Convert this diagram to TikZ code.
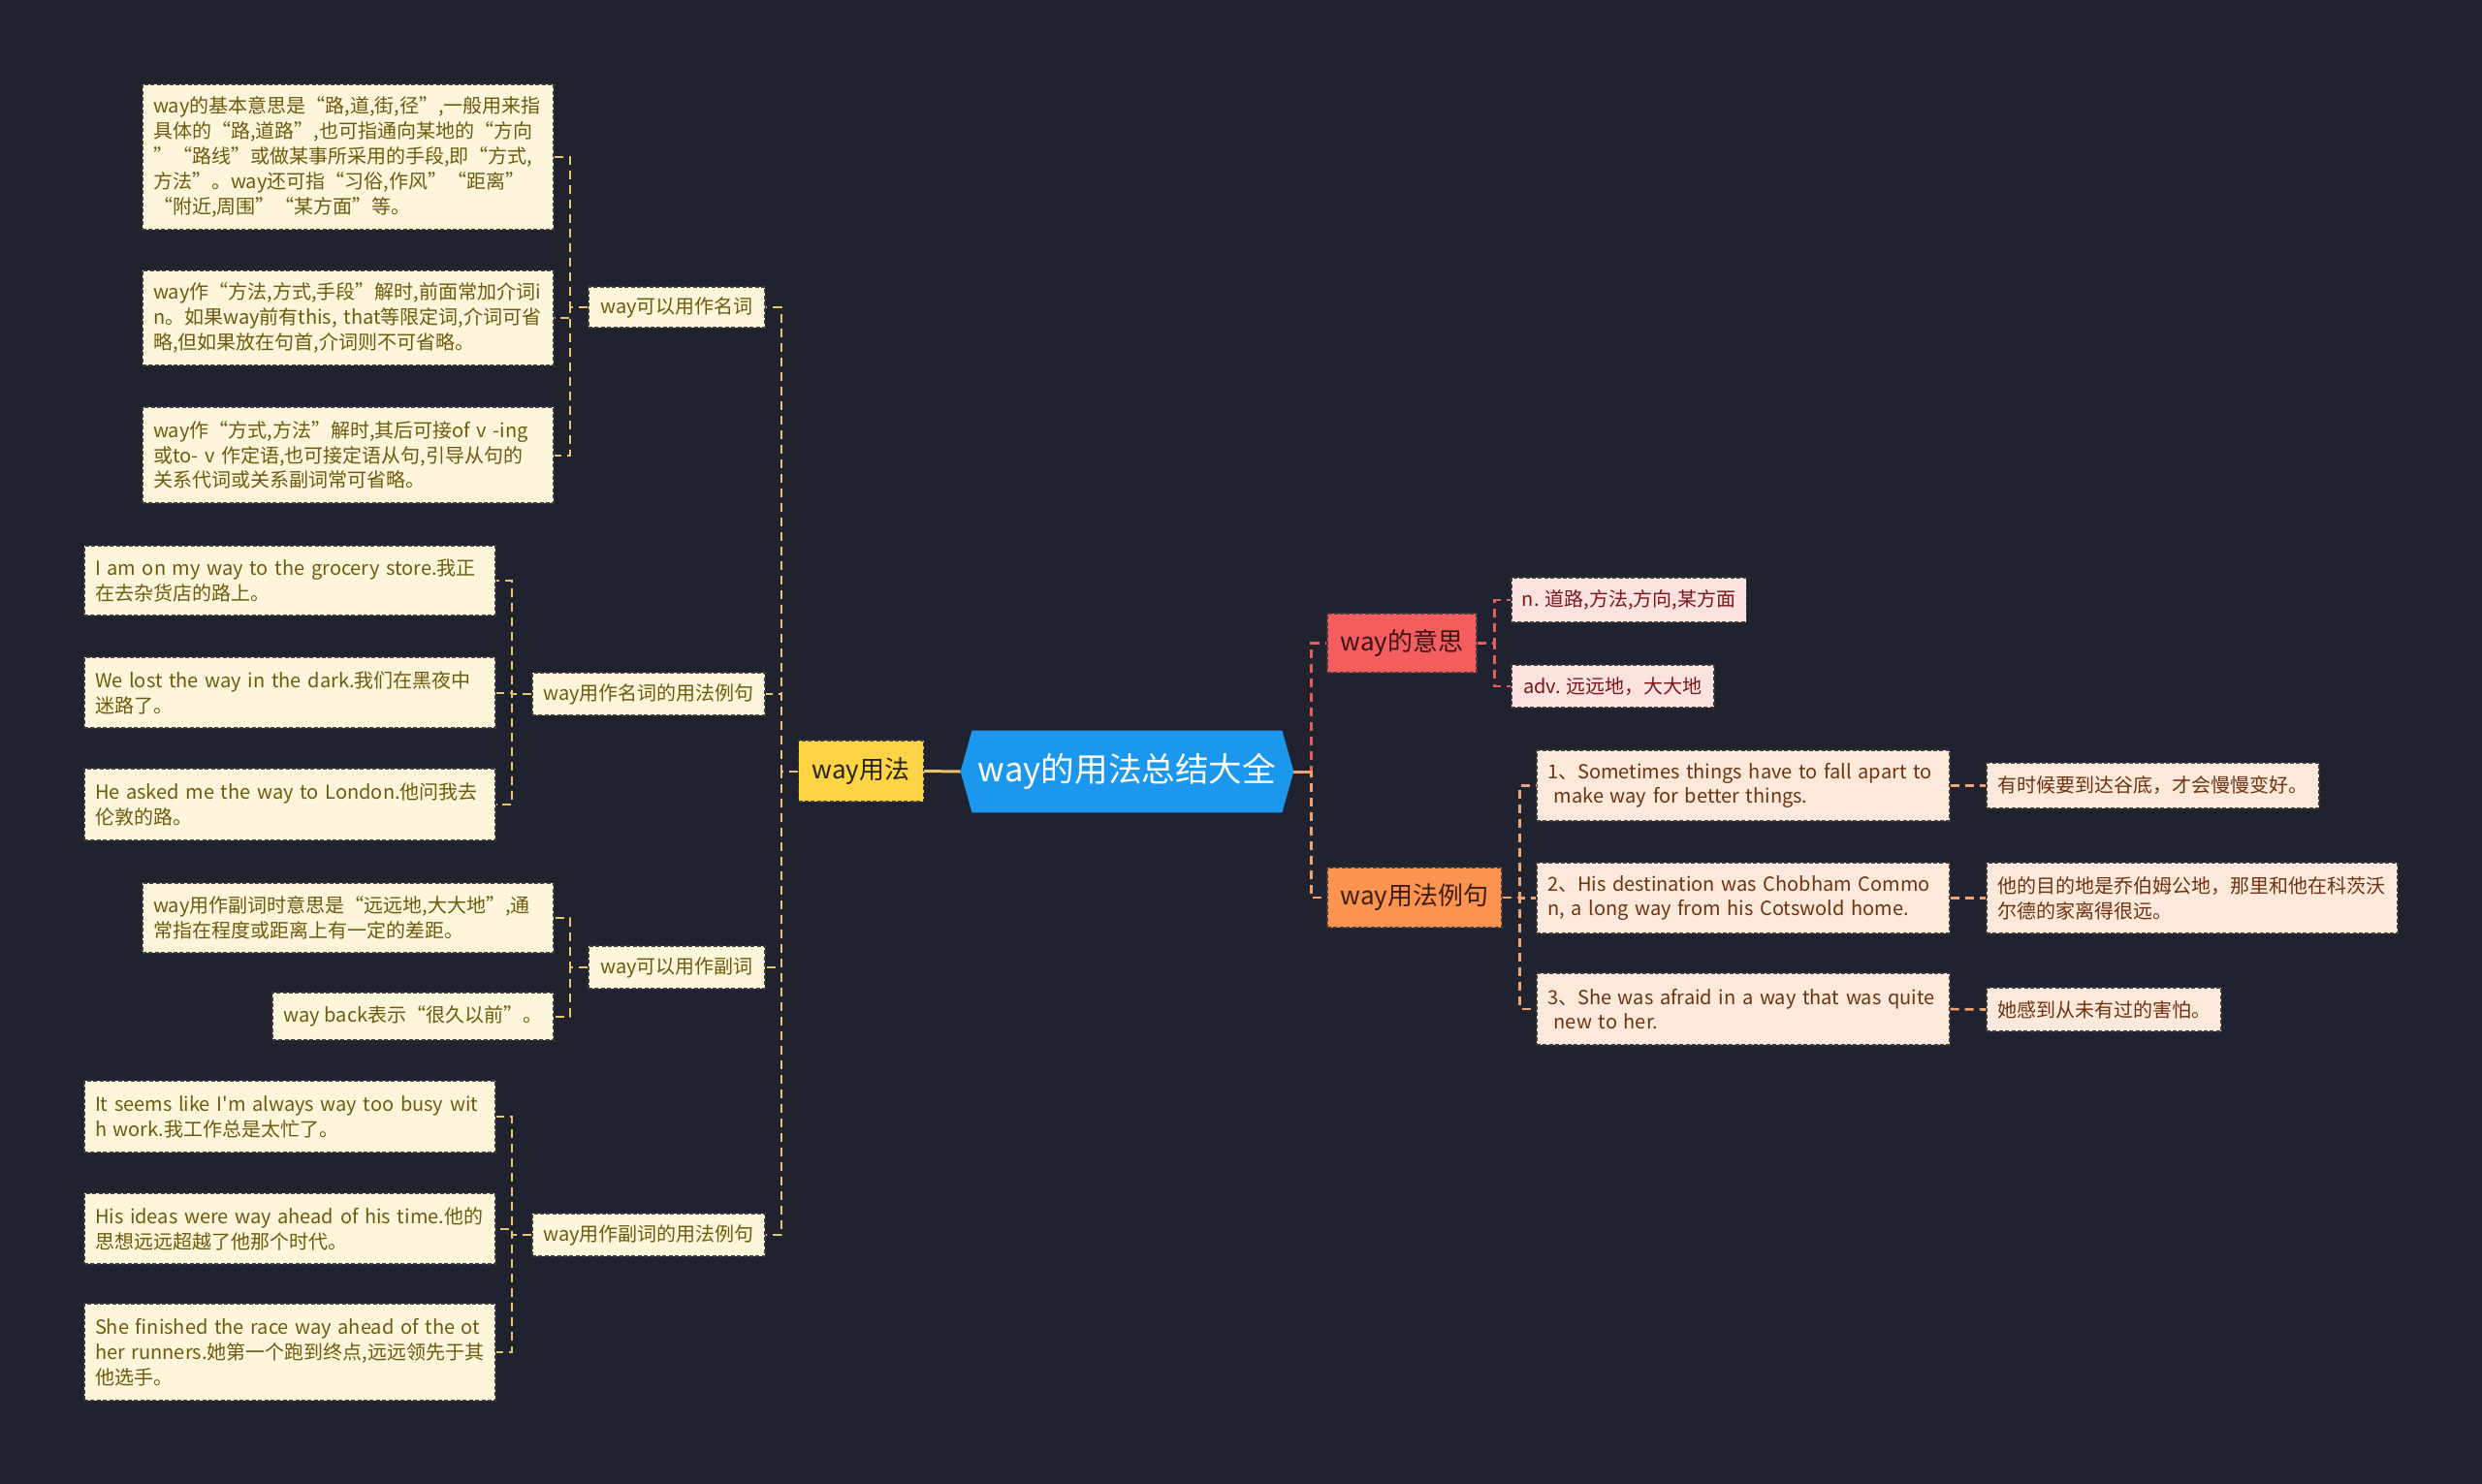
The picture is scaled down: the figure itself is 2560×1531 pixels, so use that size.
\documentclass[tikz,border=0pt]{standalone}
\usepackage{fontspec}
\setmainfont{Noto Sans CJK SC}[Ligatures=TeXOff]
\usetikzlibrary{backgrounds}
\definecolor{bg}{HTML}{20232F}
\definecolor{hexblue}{HTML}{1B98EE}
\definecolor{yel}{HTML}{FDD443}
\definecolor{cream}{HTML}{FDF6DA}
\definecolor{olive}{HTML}{6E5A0E}
\definecolor{redbox}{HTML}{F45E5E}
\definecolor{pinkbox}{HTML}{FDE3E0}
\definecolor{darkred}{HTML}{7A1616}
\definecolor{orangebox}{HTML}{FD9350}
\definecolor{peach}{HTML}{FDE9DC}
\definecolor{brownt}{HTML}{6E3210}
\definecolor{lineyel}{HTML}{E8C56A}
\definecolor{linered}{HTML}{E45E5E}
\definecolor{lineor}{HTML}{F2A46E}
\definecolor{bord}{HTML}{3C3C3C}
\newcommand\Lx[1]{\mbox{#1}}
\tikzset{
  base/.style={inner xsep=5.5pt, inner ysep=0pt, draw=bord, line width=0.7pt, dash pattern=on 2pt off 1.2pt},
  small/.style={font=\fontsize{10pt}{12.9pt}\selectfont},
  creamL/.style={base, small, fill=cream, text=olive},
  pinkL/.style={base, small, fill=pinkbox, text=darkred},
  peachL/.style={base, small, fill=peach, text=brownt},
  multi/.style={align=left, text width=#1},
  lvlone/.style={base, font=\fontsize{13pt}{15pt}\selectfont},
  connY/.style={draw=lineyel, line width=1pt, dash pattern=on 4.5pt off 3pt},
  connR/.style={draw=linered, line width=1.3pt, dash pattern=on 4.5pt off 3pt},
  connO/.style={draw=lineor, line width=1.3pt, dash pattern=on 4.5pt off 3pt},
}
\begin{document}
\begin{tikzpicture}[x=0.5pt, y=-0.5pt]
\useasboundingbox (0,0) rectangle (2560,1531);

% root
\node[text=white, font=\fontsize{17.3pt}{20pt}\selectfont, minimum width=171.5pt, minimum height=42pt, inner sep=0pt] (root) at (1162.5,796) {way的用法总结大全};

% level 1
\node[lvlone, fill=yel, text={rgb,255:red,40;green,36;blue,20}, minimum width=64.5pt, minimum height=31.5pt] (Y) at (888,795.5) {way用法};
\node[lvlone, fill=redbox, text={rgb,255:red,60;green,20;blue,20}, minimum width=77pt, minimum height=30.5pt] (M1) at (1446,663.5) {way的意思};
\node[lvlone, fill=orangebox, text={rgb,255:red,60;green,30;blue,12}, minimum width=90pt, minimum height=31pt] (M2) at (1459,926) {way用法例句};

% left level 2
\node[creamL, minimum width=91pt, minimum height=21pt] (N1) at (698,317) {way可以用作名词};
\node[creamL, minimum width=120pt, minimum height=22pt] (N2) at (669,716) {way用作名词的用法例句};
\node[creamL, minimum width=91pt, minimum height=22pt] (N3) at (698,998) {way可以用作副词};
\node[creamL, minimum width=120pt, minimum height=22pt] (N4) at (669,1274) {way用作副词的用法例句};

% left leaves
\node[creamL, multi=201pt, minimum height=75pt] (L1) at (359,162) {\Lx{way的基本意思是“路,道,街,径”,一般用来指}\\\Lx{具体的“路,道路”,也可指通向某地的“方向}\\\Lx{”“路线”或做某事所采用的手段,即“方式,}\\\Lx{方法”。way还可指“习俗,作风”“距离”}\\\Lx{“附近,周围”“某方面”等。}};
\node[creamL, multi=201pt, minimum height=49pt] (L2) at (359,328) {\Lx{way作“方法,方式,手段”解时,前面常加介词i}\\\Lx{n。如果way前有this, that等限定词,介词可省}\\\Lx{略,但如果放在句首,介词则不可省略。}};
\node[creamL, multi=201pt, minimum height=49.5pt] (L3) at (359,469.5) {\Lx{way作“方式,方法”解时,其后可接of v -ing}\\\Lx{或to- v 作定语,也可接定语从句,引导从句的}\\\Lx{关系代词或关系副词常可省略。}};

\node[creamL, multi=201pt, minimum height=36pt] (E1) at (299,599) {\Lx{I am on my way to the grocery store.我正}\\\Lx{在去杂货店的路上。}};
\node[creamL, multi=201pt, minimum height=36.5pt] (E2) at (299,714.5) {\Lx{We lost the way in the dark.我们在黑夜中}\\\Lx{迷路了。}};
\node[creamL, multi=201pt, minimum height=37pt] (E3) at (299,830) {\Lx{He asked me the way to London.他问我去}\\\Lx{伦敦的路。}};

\node[creamL, multi=201pt, minimum height=36pt] (A1) at (359,947) {\Lx{way用作副词时意思是“远远地,大大地”,通}\\\Lx{常指在程度或距离上有一定的差距。}};
\node[creamL, minimum width=145pt, minimum height=24.5pt] (A2) at (426,1048.5) {way back表示“很久以前”。};

\node[creamL, multi=201pt, minimum height=37pt] (X1) at (299,1152) {\Lx{It seems like I'm always way too busy wit}\\\Lx{h work.我工作总是太忙了。}};
\node[creamL, multi=201pt, minimum height=36.5pt] (X2) at (299,1267.5) {\Lx{His ideas were way ahead of his time.他的}\\\Lx{思想远远超越了他那个时代。}};
\node[creamL, multi=201pt, minimum height=50pt] (X3) at (299,1395) {\Lx{She finished the race way ahead of the ot}\\\Lx{her runners.她第一个跑到终点,远远领先于其}\\\Lx{他选手。}};

% right leaves
\node[pinkL, minimum width=121pt, minimum height=23pt] (P1) at (1680,619) {n. 道路,方法,方向,某方面};
\node[pinkL, minimum width=104.5pt, minimum height=22pt] (P2) at (1663.5,708) {adv. 远远地，大大地};

\node[peachL, multi=202pt, minimum height=36.5pt] (R1) at (1798,810.5) {\Lx{1、Sometimes things have to fall apart to}\\\Lx{ make way for better things.}};
\node[peachL, multi=202pt, minimum height=36.5pt] (R2) at (1798,926.5) {\Lx{2、His destination was Chobham Commo}\\\Lx{n, a long way from his Cotswold home.}};
\node[peachL, multi=202pt, minimum height=37pt] (R3) at (1798,1041) {\Lx{3、She was afraid in a way that was quite}\\\Lx{ new to her.}};

\node[peachL, minimum width=171.5pt, minimum height=23.5pt] (T1) at (2220.5,810.5) {有时候要到达谷底，才会慢慢变好。};
\node[peachL, multi=201pt, minimum height=36.5pt] (T2) at (2261,926.5) {\Lx{他的目的地是乔伯姆公地，那里和他在科茨沃}\\\Lx{尔德的家离得很远。}};
\node[peachL, minimum width=121pt, minimum height=22.5pt] (T3) at (2170,1041.5) {她感到从未有过的害怕。};

% connectors left
\foreach \n in {N1,N2,N3,N4} \draw[connY] (Y.west) -- ++(-17,0) |- (\n.east);
\foreach \n in {L1,L2,L3} \draw[connY] (N1.west) -- ++(-18,0) |- (\n.east);
\foreach \n in {E1,E2,E3} \draw[connY] (N2.west) -- ++(-20,0) |- (\n.east);
\foreach \n in {A1,A2} \draw[connY] (N3.west) -- ++(-18,0) |- (\n.east);
\foreach \n in {X1,X2,X3} \draw[connY] (N4.west) -- ++(-20,0) |- (\n.east);
\draw[lineyel, line width=1.5pt] (Y.east) -- (root.west);

% connectors right
\draw[connR] (root.east) -- ++(18,0) |- (M1.west);
\draw[connO] (root.east) -- ++(18,0) |- (M2.west);
\draw[lineor, line width=1.5pt] (root.east) -- ++(18,0);
\foreach \n in {P1,P2} \draw[connR] (M1.east) -- ++(18,0) |- (\n.west);
\foreach \n in {R1,R2,R3} \draw[connO] (M2.east) -- ++(18,0) |- (\n.west);
\draw[connO] (R1.east) -- (T1.west);
\draw[connO] (R2.east) -- (T2.west);
\draw[connO] (R3.east) -- (T3.west);

\begin{scope}[on background layer]
\fill[bg] (0,0) rectangle (2560,1531);
\fill[hexblue] (root.west) -- ([xshift=6pt]root.north west) -- ([xshift=-6pt]root.north east) -- (root.east) -- ([xshift=-6pt]root.south east) -- ([xshift=6pt]root.south west) -- cycle;
\end{scope}
\end{tikzpicture}
\end{document}
